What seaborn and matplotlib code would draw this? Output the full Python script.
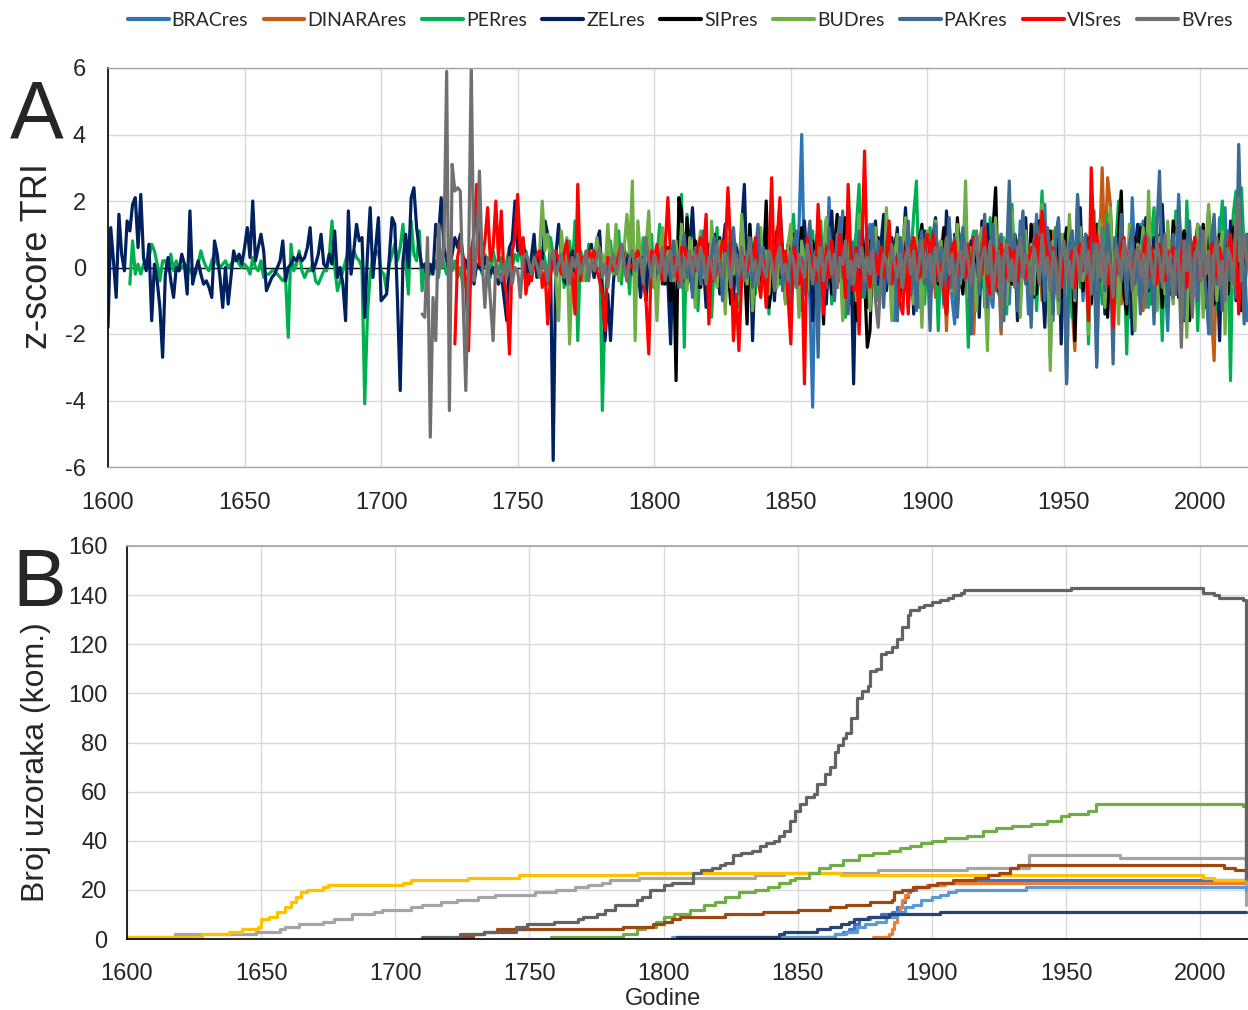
import numpy as np
import pandas as pd
import matplotlib
matplotlib.use("Agg")
import matplotlib.pyplot as plt
from matplotlib.lines import Line2D
import seaborn as sns

# ---------------- data ----------------
sites = ["BRACres", "DINARAres", "PERres", "ZELres", "SIPres", "BUDres", "PAKres", "VISres", "BVres"]
colors_a = ["#2E75B6", "#C55A11", "#00B050", "#002060", "#000000", "#70AD47", "#3D6A8E", "#FF0000", "#707070"]
colors_b = ["#4472C4", "#ED7D31", "#A5A5A5", "#FFC000", "#5B9BD5", "#70AD47", "#264478", "#9E480E", "#636363"]

start_year = {"BRACres": 1851, "DINARAres": 1878, "PERres": 1608, "ZELres": 1600, "SIPres": 1803,
              "BUDres": 1758, "PAKres": 1805, "VISres": 1727, "BVres": 1715}

z_ZEL = [
    -1.8, 1.2, 0.2, -0.9, 1.6, 0.4, -0.1, 1.4, 1.1, 1.9,
    2.1, 0.6, 2.2, 0.3, -0.1, 0.7, -1.6, 0.1, -0.4, -1.2,
    -2.7, -0.2, 0.3, -0.4, -0.9, 0.0, -0.1, 0.4, 0.1, -0.8,
    1.7, -0.5, -0.1, 0.2, -0.2, -0.5, -0.4, -0.6, -0.9, 0.8,
    0.4, -0.3, -1.2, 0.0, -1.1, -0.3, 0.5, 0.2, 0.4, 0.1,
    0.6, 1.2, 0.3, 2.0, 0.2, 0.6, 1.0, 0.5, -0.7, -0.5,
    -0.3, -0.2, 0.0, 0.2, 0.8, -0.4, 0.0, 0.1, 0.3, 0.2,
    0.4, 0.2, 0.3, 0.6, 1.2, -0.1, 0.1, 0.4, 1.0, 0.1,
    0.0, 0.4, 0.1, 1.1, -0.3, 0.0, -0.5, -1.6, 1.7, -0.2,
    0.5, 1.3, 0.8, 0.9, -1.5, 0.4, 1.8, -0.3, 0.6, 1.5,
    -1.0, -0.9, -0.8, 0.3, 1.5, 1.3, -1.0, -3.7, 0.2, 1.0,
    0.0, 2.1, 2.4, 1.2, 0.5, 0.0, 0.1, -0.4, 0.1, -0.2,
    1.3, 0.9, 2.1, 0.6, 0.2, -0.1, 0.4, 0.9, 0.6, 1.0,
    0.3, 0.2, -0.1, 0.4, -0.5, 0.1, 0.0, -0.1, 0.3, 0.0,
    -0.2, 0.0, -0.3, -0.5, -0.2, -0.9, -1.6, 0.6, 0.8, 2.0,
    0.5, 0.6, 0.8, 0.2, -0.5, 0.3, 1.0, -0.3, 0.5, 0.2,
    1.4, 1.0, 0.3, -5.8, 0.4, 1.3, 0.3, -0.4, -0.5, 0.1,
    0.5, -0.2, 0.4, -0.1, 0.3, 0.2, 0.4, 0.7, -0.3, 0.8,
    1.1, -0.6, -2.2, -0.8, -2.2, -0.5, 0.5, -0.3, 0.6, 0.0,
    0.2, 0.5, -0.2, 0.4, 0.1, -0.9, 0.3, -1.0, 0.5, 0.0,
    0.3, -0.8, 0.4, -0.5, 0.8, -0.4, -2.3, 0.5, -0.1, 0.6,
    -0.3, 0.4, 1.3, 0.6, 1.8, 0.2, -0.6, 0.9, 0.1, -1.2,
    0.7, -0.4, 1.0, 0.3, -0.8, 0.5, 1.3, -0.2, 0.4, -1.0,
    0.6, 0.0, 1.2, 2.5, -0.4, 0.8, -2.2, 0.3, 1.0, -0.6,
    0.4, 1.5, -0.3, 0.7, -1.0, 0.2, 1.9, 0.5, -0.7, 0.3,
    -0.5, 1.0, 0.2, -0.8, 0.6, 1.4, -0.2, 0.8, -1.6, 0.4,
    1.2, -0.3, 0.7, -1.1, 0.5, 1.7, 0.0, -0.6, 0.9, 0.3,
    -0.8, 1.1, 0.4, -3.5, 0.6, -0.3, 1.3, 0.2, -1.2, 0.8,
    0.1, 1.4, -0.5, 0.7, 1.6, -0.7, 0.3, 0.9, -0.4, 1.2,
    -0.9, 0.5, 1.8, -0.2, 0.6, -1.4, 0.8, 0.2, -0.6, 1.1,
    0.4, -1.0, 0.9, 1.5, -0.3, 0.6, -0.8, 1.7, 0.2, -0.5,
    1.0, -1.2, 0.5, 0.3, 1.4, -0.6, 0.8, -0.2, 0.4, -1.5,
    0.9, 0.1, 1.3, -0.7, 0.5, 1.6, -0.4, 0.2, -1.1, 0.7,
    1.2, -0.3, 0.6, -1.6, 0.9, 0.1, 1.5, -0.5, 0.3, -0.9,
    0.8, 1.3, -0.2, -1.8, 0.5, 0.9, -0.6, 0.2, 1.4, -2.3,
    0.6, -0.4, 1.0, 0.3, -1.2, 0.7, 1.8, -0.5, 0.2, 0.9,
    -0.8, 0.5, 1.1, -0.3, 0.6, -1.4, 0.4, 1.6, -0.2, 0.8,
    -0.6, 1.2, 0.3, -1.0, 0.7, -2.0, 0.5, 1.3, -0.4, 0.2,
    1.5, -0.7, 0.4, 0.9, -1.3, 0.6, 1.9, -0.1, 0.3, -0.8,
    0.7, 1.2, -0.5, 0.4, -1.6, 1.0, 0.2, -0.9, 0.6, 1.3,
    -0.4, 0.8, -1.2, 0.5, 1.1, -0.6, 0.3, -2.2, 0.9, 0.1,
    -0.7, 1.4, 0.2, -1.0, 0.6, 0.4, -0.3, 0.2]

z_PER = [
    -0.5, 0.8, -0.2, 0.1, -0.2, 0.1, 0.2, 0.3, 0.7, 0.5,
    0.1, -0.4, 0.2, 0.2, -0.1, 0.4, -0.1, 0.2, -0.1, 0.0,
    0.1, 0.0, -0.1, -0.2, -0.2, 0.1, 0.5, 0.2, 0.0, -0.1,
    0.2, 0.4, 0.1, 0.0, 0.1, 0.2, 0.0, 0.1, 0.2, 0.3,
    0.1, 0.0, 0.1, 0.0, -0.2, 0.3, 0.0, -0.1, 0.2, -0.3,
    -0.2, -0.2, -0.1, -0.1, -0.2, -0.3, -0.4, -0.3, -2.1, 0.7,
    -0.1, 0.1, 0.5, -0.1, -0.3, -0.1, -0.1, 0.1, -0.4, -0.5,
    -0.3, -0.1, -0.1, 0.3, 1.4, 0.0, -0.7, -0.4, -0.1, 0.2,
    0.5, 0.3, 0.5, 0.3, 0.2, 0.0, -4.1, -1.4, -0.2, 0.3,
    0.4, 0.5, -0.1, -0.2, -0.7, 0.1, 0.4, 0.7, 0.2, 0.6,
    1.3, 0.2, -0.8, 1.4, 0.4, 0.2, 1.1, -0.7, 0.1, -0.1,
    -0.2, 0.0, 0.2, -0.3, 0.4, 0.1, -0.2, 0.3, -0.1, 0.2,
    -0.3, 0.0, -0.6, 0.2, 0.1, -0.4, 0.3, 0.0, 0.1, -0.2,
    0.4, 0.2, -0.3, 0.5, 0.1, -0.2, 0.3, -0.5, 0.2, 0.6,
    0.0, 0.4, 0.2, 0.8, -0.3, 0.5, 0.1, -0.4, 0.7, 0.3,
    -0.2, 0.6, 0.2, -0.5, 0.9, 0.4, -0.3, 0.1, 0.6, -0.6,
    0.3, 0.8, -0.1, 1.4, -2.2, 0.5, 0.2, -0.4, 0.7, 0.1,
    -0.3, 0.5, 0.9, -4.3, -1.2, 0.4, 0.8, -0.2, 0.3, 1.1,
    -0.5, 0.6, 0.2, -0.8, 1.2, 0.0, 0.5, -0.3, 0.9, -1.0,
    0.4, 1.0, -0.6, 0.3, 1.3, -0.4, 0.7, 0.2, -1.1, 0.6,
    -0.2, 1.5, 2.2, -2.4, 1.6, 0.3, -0.5, 0.8, -1.3, 0.4,
    1.0, -0.7, 0.5, -1.5, 0.2, 1.2, -0.4, 0.6, -0.9, 0.3,
    1.1, -0.3, 0.7, -1.2, 0.4, 0.9, -0.6, 1.3, 0.1, -0.8,
    0.6, 1.0, -0.4, 0.3, -1.4, 0.8, 0.2, 1.2, -0.5, 0.4,
    -1.0, 0.7, 0.3, 1.6, -0.2, 0.5, -1.3, 0.9, 0.1, -0.6,
    1.1, -0.4, 0.6, 1.4, -0.8, 0.2, 0.7, -1.1, 0.4, 1.0,
    -0.3, 0.5, -1.5, 0.8, 0.2, -0.6, 1.2, 2.5, -0.9, 0.3,
    0.6, -0.5, 1.1, 0.1, -1.0, 0.7, 0.4, -0.4, 1.3, -0.2,
    0.5, -1.6, 0.9, 0.2, -0.7, 1.0, 0.3, 1.6, 2.6, -0.8,
    0.4, -1.1, 0.7, 1.2, -0.3, 0.5, -1.9, 0.8, 0.1, -0.6,
    1.3, 0.2, -0.9, 0.6, 1.0, -0.4, 0.3, -2.4, 0.7, 1.1,
    -0.5, 0.4, 0.9, -1.2, 0.2, 1.5, -0.3, 0.6, -0.8, 1.0,
    0.3, -1.4, 0.7, 1.9, -0.2, 0.5, -1.0, 0.8, 1.3, -0.6,
    0.2, 1.0, -1.3, 0.6, 2.3, -0.4, 0.9, -2.7, 0.3, 1.2,
    -0.7, 0.5, 1.0, -0.3, 0.7, -1.5, 0.4, 1.1, -0.6, 0.2,
    0.9, -2.3, 0.6, 1.3, -0.4, 0.5, -1.1, 0.8, 1.6, -0.3,
    -1.4, 0.7, 2.0, -0.5, 0.3, -2.6, 1.0, 0.2, -0.8, 0.6,
    1.3, -0.4, 0.5, -1.2, 0.9, 1.8, -0.6, 0.3, -2.2, 0.7,
    1.1, -0.3, 0.4, 1.7, -0.9, 0.6, -1.6, 2.0, 0.1, -0.5,
    0.8, -1.9, 1.2, 0.3, -0.7, 1.5, -0.2, 0.6, -1.3, 0.9,
    2.0, -0.4, 0.7, -3.4, 1.6, 2.3, -0.8, 2.4, 0.5, 1.0]

z_BV = [
    -1.4, -1.5, 0.9, -5.1, -0.9, -2.2, 1.3, 0.0, 0.6, 5.9,
    -4.3, 3.1, 2.3, 2.4, 2.3, -0.9, -3.7, 0.0, 6.1, -0.4,
    0.5, 2.9, 0.2, -1.2, 0.3, -1.0, -2.2, 0.2, -0.2, -0.4,
    0.1, -0.3, 0.3, -0.5, 0.0, -0.1, -0.9, 0.3, 0.4, 0.2,
    -0.2, 0.3, 0.1, -0.3, 0.2, 0.0, -0.4, 0.3, 0.5, -0.2,
    0.1, 0.4, -0.3, 0.2, -0.5, 0.3, 0.0, 0.4, -0.2, 0.1,
    0.5, -0.4, 0.2, -0.1, 0.3, 0.6, -0.3, 0.1, -0.6, 0.2,
    0.4, -0.2, 0.1, 0.7, 0.0, -0.4, 0.3, 0.5, -0.1, 0.2,
    0.3, -0.5, 0.9, 0.2, -0.3, 0.4, 0.1, -0.2, 0.6, -0.4,
    0.2, 0.5, -0.3, 0.1, 0.4, -0.6, 0.3, 0.0, 0.5, -0.2,
    0.4, -0.1, 0.6, 0.2, -0.5, 0.3, 0.1, -0.4, 0.7, 0.0,
    -0.3, 0.4, 0.2, -0.6, 0.5, 0.1, -0.2, 0.6, -0.4, 0.3,
    0.8, -0.1, 0.2, -0.5, 0.4, 0.0, -0.3, 0.5, 0.2, -0.7,
    0.3, 0.6, -0.2, 0.1, -0.4, 0.5, 0.2, -0.6, 0.4, 0.0,
    -0.3, 0.7, 0.1, -0.5, 0.3, -0.1, 0.6, -0.4, 0.2, 0.5,
    -0.2, 0.4, -0.6, 0.3, 0.1, 0.8, -0.3, 0.2, -0.5, 0.4,
    0.0, 0.6, -0.4, 0.3, -0.2, 0.5, -1.0, -1.8, -0.3, 0.4,
    0.2, -0.5, 0.7, 0.1, -0.3, 0.4, -0.6, 0.3, 0.6, -0.2,
    0.5, -0.4, 0.1, 0.8, -0.3, 0.2, 0.4, -0.5, 0.6, 0.0,
    -0.6, 0.3, 0.9, -0.2, 0.4, -0.8, 0.1, 0.5, -0.3, 0.7,
    0.2, -0.5, 0.4, 1.1, -0.4, 0.3, 0.6, -0.2, 0.8, -0.9,
    0.1, 0.5, -1.9, 0.3, 0.7, -0.4, 0.2, -0.6, 0.5, 0.9,
    -0.3, 0.4, 0.1, -0.8, 0.6, 0.2, -0.5, 1.0, -0.2, 0.3,
    -0.7, 0.5, 0.1, -1.0, 0.4, 0.8, -0.3, 0.2, -0.6, 0.6,
    0.3, -0.4, 0.9, -0.2, 0.5, -0.8, 0.2, 0.7, -0.3, 1.2,
    -0.5, 0.4, 0.1, -0.9, 0.6, 0.3, -0.4, 0.8, -0.1, 0.5,
    -0.7, 0.2, 0.6, -0.3, 0.4, -1.2, 0.9, 0.1, -0.5, 0.7,
    0.3, -0.6, 1.0, -0.2, 0.4, -0.9, 0.5, 0.2, -2.4, 0.8,
    -0.1, 0.6, -1.5, 0.3, 0.7, -0.4, 1.1, -0.2, 0.5, -2.0,
    0.4, 0.9, -0.6, 0.2, -1.0, 0.6, 0.3, -0.5, 1.3, 2.1,
    -0.4, 1.0, 0.2]

z_VIS = [
    -2.3, 0.3, 0.8, 0.3, -0.4, -2.5, 0.5, 1.0, 2.5, 0.1,
    0.2, 0.8, 1.8, 0.2, 0.6, 2.0, 0.2, 1.7, -0.4, -0.8,
    -2.6, 0.5, 0.9, 2.2, 0.4, 0.9, -0.8, -0.2, -0.4, 0.1,
    0.4, 0.5, -0.6, -0.1, -1.7, -0.2, 0.1, 0.5, 0.2, -0.2,
    0.4, 0.8, 0.0, -0.3, -1.4, 2.5, -0.4, 0.3, 0.2, 0.5,
    0.3, 0.5, -0.1, -0.4, -0.8, -1.9, 0.3, 0.1, -0.1, 0.0,
    0.4, 0.7, 0.2, -0.4, 0.1, 0.0, 0.3, 0.5, 0.1, -0.4,
    -1.0, -2.6, 0.5, 0.2, 0.7, 0.1, -0.4, 0.6, 2.1, 0.3,
    0.3, -0.2, -0.4, 0.6, 0.6, 0.1, 0.2, 0.3, -0.1, 0.6,
    0.9, 0.4, 1.6, -1.7, 0.2, -0.4, 0.1, 0.3, 0.8, 0.5,
    2.4, 0.5, -2.2, -0.8, -2.5, -0.4, 0.3, -0.1, 0.5, 0.2,
    0.9, -0.3, -0.9, 0.2, -1.2, 0.4, 2.7, -0.4, 0.8, 2.1,
    -0.2, 0.5, -0.9, -2.3, 0.6, 0.3, -0.5, 0.2, -3.5, 0.9,
    0.5, -0.2, -0.4, 1.9, 0.3, -1.4, 0.6, -0.3, 0.8, 0.2,
    -0.6, 1.0, 0.4, -0.9, 2.5, 0.3, -0.7, 0.6, -2.0, 0.5,
    3.5, 0.1, -0.6, 0.3, 0.4, -0.2, 0.6, -0.3, 0.2, 1.4,
    -0.5, 0.3, 0.2, -1.1, -1.4, 0.5, -1.4, 0.6, 0.9, 0.4,
    -0.3, 0.2, 0.6, 1.0, 0.3, 1.0, 0.5, -0.4, 0.1, -0.7,
    -1.4, 0.0, 0.6, 0.8, -0.2, 0.4, 0.3, -0.3, 0.7, -0.5,
    0.9, 0.4, 0.4, -0.2, 1.2, -0.4, -0.8, 0.6, -0.6, 0.3,
    0.7, 0.2, -0.3, 0.6, 0.3, 0.5, -0.4, 0.3, 0.1, -0.3,
    0.2, 0.6, 0.4, 1.0, 0.1, 1.7, 0.9, 0.4, -0.1, 0.6,
    0.2, -0.4, -0.6, 0.3, 0.1, -0.2, 0.5, -0.6, 0.4, 0.7,
    -0.1, 0.3, -1.6, 3.0, 0.8, 1.0, 0.3, 0.6, -0.3, -0.5,
    0.2, -1.8, 0.4, 0.2, 0.7, 0.9, 0.1, 0.5, -0.4, 0.3,
    0.6, 0.2, 0.4, 0.9, -0.3, 0.6, 0.1, -0.5, 0.7, 0.3,
    -0.4, 0.5, 0.2, 0.6, 0.3, -0.2, 0.4, 0.8, -0.6, 0.1,
    0.5, 0.9, 0.3, -0.4, 0.6, -0.1, 0.2, 0.7, 0.4, -0.3,
    0.6, 0.2, -0.5, 0.3, 1.0, -0.3, 0.8, -1.4, 0.4, 0.5,
    0.2]

z_BUD = [
    0.4, 2.0, 0.5, 1.0, 0.3, 0.5, -0.4, -1.6, 1.1, 0.2,
    0.9, -2.3, -0.2, -0.9, 0.5, 0.1, -0.4, 0.3, 0.0, 0.5,
    0.2, 0.9, 0.3, 0.4, -0.1, 1.3, 0.1, -0.2, 1.3, -0.4,
    0.3, 0.6, 1.6, 0.4, 2.6, -2.2, 1.4, 0.3, 0.0, 0.6,
    1.7, -0.6, 0.3, -1.6, 0.4, 1.2, 0.1, 0.5, -0.3, -0.4,
    0.8, -0.5, 1.3, 0.2, -0.7, 0.9, 0.4, -1.2, 0.6, 1.1,
    -0.3, 0.5, -0.9, 1.4, 0.2, -0.6, 0.8, 0.3, -1.4, 0.7,
    1.0, -0.2, 0.4, -1.0, 1.6, 0.3, -0.5, 0.9, -1.3, 0.2,
    0.6, 1.2, -0.4, 0.5, -0.8, 1.4, 0.1, -0.6, 0.9, 0.3,
    -1.1, 0.7, 1.3, -0.3, 0.4, -1.5, 0.8, 0.2, -0.7, 1.2,
    0.1, -0.4, 0.9, -1.2, 0.6, 1.5, -0.3, 0.4, -0.9, 1.0,
    0.3, -1.6, 0.7, 1.1, -0.5, 0.2, -1.0, 1.6, 0.4, -0.3,
    0.8, -1.3, 0.5, 1.2, -0.2, 0.6, -0.9, 1.8, 0.1, -1.6,
    0.4, 1.0, -0.6, 0.7, 1.5, -0.3, 0.2, -1.1, 0.9, 0.3,
    -1.8, 0.6, 1.1, -0.4, 0.5, 1.4, -0.2, 0.8, -1.2, 0.3,
    1.0, -0.7, 0.4, 1.3, -0.5, 0.2, 2.6, -0.9, 0.6, 0.1,
    -1.3, 0.8, 1.2, -0.4, -2.5, 0.7, 0.3, 1.5, -0.6, 0.2,
    0.9, -1.1, 0.5, 1.7, -0.3, 0.6, -1.5, 0.4, 1.1, -0.2,
    0.7, -0.8, 1.3, 0.2, 1.9, -0.5, 0.4, -3.1, 0.8, 0.3,
    -1.4, 1.0, 0.5, -0.6, 1.6, 0.2, -1.0, 0.7, 1.2, -0.4,
    0.5, -2.0, 0.9, 0.3, -0.7, 1.4, 0.1, -1.2, 0.6, 1.8,
    -0.3, 0.4, -1.7, 1.1, 0.6, -0.5, 1.3, 0.2, -1.9, 0.7,
    0.3, 1.2, -0.6, 2.3, -0.2, 0.5, -1.3, 0.9, 0.4, -0.8,
    1.4, 0.1, -1.1, 0.6, 1.7, -0.4, 0.3, -2.1, 1.0, 0.5,
    -0.7, 1.3, 0.2, -1.5, 0.8, 1.9, -0.3, 0.6, -1.0, 0.4,
    1.1, -2.0, 0.5, 0.9, -0.6, 1.5, 0.2, 0.7, -0.8, 0.3]

z_SIP = [
    0.2, -0.5, 0.6, -1.0, 0.4, -3.4, 2.1, 1.7, -0.4, 1.5,
    -0.2, -0.7, 0.8, 0.3, -0.6, 0.5, 1.0, -1.2, 0.2, 0.7,
    -0.3, 0.9, -0.8, 0.4, 0.1, -1.1, 0.6, 0.3, -0.5, 1.0,
    0.2, -1.7, 1.3, -0.4, 0.5, 0.8, -0.6, 0.1, 2.0, -1.2,
    -0.6, 0.4, 1.1, -0.3, 0.5, -0.9, 0.7, 0.3, 0.6, -0.5,
    0.2, 1.2, -0.7, 0.4, -0.2, 0.8, 0.3, -1.0, 0.5, -1.7,
    1.4, 0.2, -0.8, 0.6, 1.6, -0.4, 0.3, 1.5, -1.2, 0.5,
    0.1, -1.6, 0.8, 1.2, -0.3, -2.4, -1.9, 0.6, 0.2, 0.9,
    -0.5, 0.4, 1.5, 0.1, -0.8, 0.7, 1.0, -0.6, 0.3, 1.1,
    -1.2, 0.5, 0.2, -0.9, 0.8, 1.3, -0.3, 0.4, -1.0, 0.6,
    1.0, -0.5, 0.3, 1.2, -1.4, 0.2, 0.7, -0.6, 1.5, 0.1,
    -0.8, 0.6, 0.3, -1.3, 0.9, 0.2, -0.4, 1.4, 0.5, -0.9,
    0.3, 1.1, 2.4, -0.7, 0.4, -1.2, 0.8, 0.1, -0.5, 1.0,
    0.6, -1.0, 0.2, 0.9, -0.4, 1.3, 0.3, -0.8, 1.4, 0.5,
    -0.6, 0.2, 1.1, -1.3, 0.7, 0.4, -0.9, 0.6, 1.2, -0.3,
    0.5, -2.2, 0.8, 0.3, -0.7, 1.0, 0.2, -1.1, 0.6, 1.3,
    -0.4, 0.7, 0.1, -1.5, 0.9, 0.4, -0.6, 1.1, 2.3, -0.8,
    -1.4, 0.6, 0.2, 0.9, -0.5, 1.2, 0.3, -1.0, 0.7, 0.4,
    -0.7, 1.0, 0.5, -1.2, 0.3, 0.8, -0.4, 1.4, 0.1, -0.9,
    0.6, 1.1, -0.3, -1.6, 0.4, 0.9, -0.5, 0.2, 1.3, -0.6,
    1.7, 0.3, -1.1, 0.5, 1.0, -0.4, 0.7, -0.8, 0.2, 1.2,
    -0.5, 0.4, -1.3, 0.6, 0.2]

z_PAK = [
    0.3, -0.4, 0.8, 0.1, -0.6, 0.5, 1.0, -0.3, 0.4, -0.9,
    0.6, 0.2, -0.5, 1.1, 0.3, -0.7, 0.4, 0.9, -0.2, 0.5,
    -1.0, 0.3, 0.7, -0.4, 1.2, 0.1, -0.8, 0.5, 0.2, -0.3,
    0.9, -0.6, 0.4, 1.3, -0.2, 0.6, -1.1, 0.3, 0.8, -0.5,
    0.2, 1.0, -0.7, 0.4, 0.1, -1.3, 0.7, 1.1, -0.4, 0.3,
    -0.8, 0.6, 1.4, -0.2, 0.5, -2.7, 0.9, 0.2, -0.6, 1.2,
    0.4, -1.0, 0.7, 1.5, -0.3, 0.2, -1.4, 0.8, 0.5, -0.7,
    1.1, 0.3, -0.9, 0.6, -0.3, 1.3, -0.5, 0.8, 0.2, -1.2,
    0.7, 1.2, -0.4, 0.3, -1.6, 0.9, 0.5, -0.2, 1.4, -0.8,
    0.2, -1.3, 0.6, 1.1, -0.5, 0.4, -1.9, 0.8, 1.3, -0.3,
    0.6, -1.1, 0.2, 1.5, -0.6, 0.9, -1.5, 0.3, 1.2, -0.4,
    0.7, -2.0, 0.5, 1.0, -0.8, 0.4, 1.6, -1.2, 0.2, 1.3,
    -0.7, 0.5, 0.9, -1.6, 0.3, 2.6, -0.4, 1.0, -1.3, 0.6,
    1.7, -0.5, 0.2, -1.8, 0.8, 1.4, -0.3, 0.6, -1.0, 1.2,
    0.4, -1.4, 0.9, 1.5, -0.6, 0.3, -3.5, 0.7, 1.1, -0.9,
    2.1, -0.4, 0.6, 1.0, -1.3, 0.5, 1.7, -3.0, 0.2, 0.8,
    -0.7, 1.3, 0.4, -2.9, 0.9, -0.2, 1.6, 0.3, -1.1, 0.7,
    1.2, -0.5, 0.4, -1.4, 0.8, 1.0, -0.6, 0.3, -1.7, 1.1,
    2.9, -0.3, 0.6, -1.2, 0.2, 1.0, -0.8, 2.0, 0.4, -1.5,
    0.7, 1.4, -0.4, 0.5, -1.0, 1.2, 0.3, -0.7, -1.8, 0.9,
    1.6, -0.5, 0.2, -1.3, 0.8, 1.1, -0.4, 0.5, -0.9, 3.7,
    0.6, -1.7, 1.0]

z_BRAC = [
    0.3, -0.6, 1.2, 4.0, -0.3, 0.5, -1.0, -4.2, 0.6, -0.4,
    0.9, 0.2, -0.7, 2.1, -0.5, 0.4, 0.8, -0.2, 1.7, -0.6,
    0.3, -1.1, 0.6, 1.0, -0.4, 0.2, -0.8, 0.7, 1.3, -0.3,
    0.5, -1.0, 0.2, 0.8, -0.6, 1.1, -0.2, -1.6, 0.4, 0.9,
    -0.5, 0.3, 1.2, -0.8, 0.6, 0.1, -1.2, 0.7, 0.4, -0.3,
    1.0, -0.6, 0.5, -1.3, 0.8, 0.2, -0.4, 1.1, -0.9, -1.7,
    0.6, 0.3, -0.5, 1.2, -0.2, 0.7, -1.0, 0.4, 0.9, -0.6,
    0.2, 1.3, -0.8, -1.2, 0.5, 0.1, 1.0, -0.4, 0.6, -1.1,
    0.8, 0.3, -0.7, 1.4, -0.3, 0.5, -1.4, 0.9, 0.2, 1.6,
    -0.5, 0.7, 1.9, -0.9, 0.4, -1.6, 1.2, 0.3, -0.7, 0.8,
    -3.4, 0.6, 1.1, -0.5, 2.2, 0.3, -1.0, 0.7, -0.3, 1.3,
    0.2, -2.9, 0.8, -0.4, 1.0, -1.3, 0.5, 0.9, -0.7, 0.3,
    1.2, -0.6, 0.4, -1.5, 2.1, 0.2, -0.8, 0.6, 1.4, -0.3,
    0.5, -1.1, 0.9, 0.3, -0.6, 1.8, -0.2, -1.9, 0.7, 0.4,
    -0.8, 2.2, 0.1, -1.2, 0.6, 1.0, -0.5, 0.3, -1.4, 0.8,
    1.1, -0.3, -2.0, 0.5, 0.9, -0.7, 1.5, 0.2, 1.8, -1.0,
    0.4, -0.6, 1.2, 0.3, -1.1, 0.7, -1.6]

z_DINARA = [
    0.2, -0.4, 0.6, 1.3, -0.3, 0.5, -0.8, 0.9, 0.1, -0.5,
    0.7, 1.1, -0.6, 0.3, 0.8, -0.2, 0.4, -1.0, 0.6, 0.2,
    -0.7, 0.5, 1.0, -0.3, 0.4, -0.9, 0.7, 0.2, 0.5, -1.9,
    0.6, -0.4, 0.3, 1.2, -0.6, 0.2, 0.8, -0.5, 0.4, -2.0,
    0.5, 0.9, -0.3, 0.6, -0.8, 0.3, 1.1, -0.4, 0.2, -2.0,
    0.7, 0.3, -0.5, 1.0, -0.2, 0.6, -0.9, 0.4, 0.8, -0.6,
    0.2, 1.3, -0.4, 0.5, -1.0, 0.7, 0.3, -0.6, 1.1, 0.1,
    -0.8, 0.6, 0.4, -0.3, 0.9, -1.2, -2.5, 0.5, 0.8, -0.4,
    0.3, -0.9, 0.6, 1.2, -0.5, 0.4, 3.0, 0.2, 2.7, 1.9,
    -0.6, 0.3, 0.8, -1.1, 0.5, 0.2, -0.7, 1.0, 0.4, -0.3,
    0.6, -1.3, 0.2, 0.9, -0.4, 0.5, -0.9, 0.7, 1.2, -0.5,
    0.3, 0.8, -1.0, 0.4, 0.6, -0.6, 1.1, 0.2, -1.2, 0.5,
    0.9, -0.4, 0.3, -0.8, 1.0, 0.2, -1.4, -2.8, 0.6, 0.4,
    -0.5, 0.8, 0.2, -0.9, 0.7, 1.3, -0.3, 0.5, -1.0, 0.4]

zscores = {"BRACres": z_BRAC, "DINARAres": z_DINARA, "PERres": z_PER, "ZELres": z_ZEL,
           "SIPres": z_SIP, "BUDres": z_BUD, "PAKres": z_PAK, "VISres": z_VIS, "BVres": z_BV}

# sample depth (number of samples), change points: year -> count from that year on
n_BRAC_years = [1851, 1864, 1867, 1869, 1871, 1873, 1877, 1881, 1885, 1887, 1889, 1890, 1891, 1892, 1894, 1898, 1903, 1915, 2017]
n_BRAC = [1, 2, 3, 4, 6, 8, 9, 10, 11, 13, 15, 17, 19, 20, 21, 22, 23, 24, 22]
n_DINARA_years = [1878, 1884, 1885, 1886, 1887, 1888, 1889, 1890, 1891, 1893, 1898, 1905, 2017]
n_DINARA = [1, 2, 4, 7, 10, 13, 16, 18, 20, 21, 22, 23, 23]
n_PER_years = [1600, 1618, 1648, 1657, 1659, 1664, 1673, 1677, 1684, 1692, 1695, 1706, 1710, 1717, 1723, 1731,
               1737, 1752, 1760, 1767, 1772, 1777, 1780, 1791, 1834, 1845, 1880, 1913, 1936, 1970, 2017]
n_PER = [1, 2, 3, 4, 5, 6, 7, 8, 10, 11, 12, 13, 14, 15, 16, 17,
         18, 19, 20, 21, 22, 23, 24, 25, 26, 27, 28, 29, 34, 33, 14]
n_ZEL_years = [1600, 1628, 1638, 1643, 1649, 1650, 1653, 1656, 1659, 1661, 1663, 1665, 1667, 1673, 1675,
               1703, 1706, 1727, 1746, 1790, 1866, 2001, 2005, 2017]
n_ZEL = [1, 2, 3, 4, 5, 8, 9, 11, 13, 15, 17, 19, 20, 21, 22,
         23, 24, 25, 26, 27, 26, 25, 24, 24]
n_SIP_years = [1803, 1864, 1868, 1872, 1875, 1879, 1883, 1887, 1890, 1893, 1896, 1900, 1903, 1906, 1909, 1935, 2017]
n_SIP = [1, 2, 3, 5, 6, 7, 9, 11, 13, 14, 16, 17, 18, 19, 20, 21, 20]
n_BUD_years = [1758, 1785, 1790, 1793, 1797, 1800, 1804, 1810, 1815, 1819, 1823, 1828, 1834, 1839, 1843, 1847,
               1849, 1854, 1858, 1862, 1867, 1873, 1878, 1884, 1888, 1892, 1896, 1900, 1905, 1913, 1919,
               1924, 1930, 1937, 1943, 1948, 1951, 1958, 1961, 2016, 2017]
n_BUD = [1, 2, 4, 5, 7, 9, 10, 12, 14, 15, 17, 19, 20, 21, 23, 24,
         25, 27, 29, 30, 32, 34, 35, 36, 37, 38, 39, 40, 41, 42, 44,
         45, 46, 47, 48, 50, 51, 52, 55, 54, 24]
n_PAK_years = [1805, 1843, 1845, 1857, 1862, 1866, 1869, 1871, 1876, 1884, 1903, 2017]
n_PAK = [1, 2, 3, 4, 5, 6, 7, 8, 9, 10, 11, 11]
n_VIS_years = [1725, 1729, 1733, 1738, 1785, 1796, 1800, 1803, 1806, 1823, 1837, 1850, 1862, 1868, 1877,
               1885, 1886, 1889, 1893, 1899, 1902, 1908, 1916, 1921, 1925, 1929, 1932, 2009, 2013, 2017]
n_VIS = [1, 2, 3, 4, 5, 6, 7, 8, 9, 10, 11, 12, 13, 14, 15,
         16, 19, 20, 21, 22, 23, 24, 25, 26, 27, 29, 30, 29, 28, 27]
n_BV_years = [1710, 1724, 1733, 1745, 1749, 1759, 1768, 1770, 1775, 1778, 1782, 1790, 1792, 1795, 1800, 1803,
              1811, 1814, 1818, 1821, 1823, 1826, 1829, 1833, 1836, 1838, 1841, 1843, 1845, 1847, 1849,
              1851, 1853, 1856, 1857, 1860, 1862, 1864, 1865, 1867, 1868, 1870, 1872, 1874, 1876, 1877,
              1879, 1881, 1883, 1885, 1887, 1889, 1891, 1892, 1895, 1897, 1900, 1903, 1906, 1908, 1911,
              1912, 1952, 2001, 2005, 2007, 2016, 2017]
n_BV = [1, 2, 3, 5, 6, 7, 8, 9, 10, 12, 14, 16, 17, 20, 22, 23,
        27, 28, 29, 30, 31, 34, 35, 36, 38, 39, 40, 42, 44, 48, 52,
        55, 58, 59, 63, 67, 70, 76, 79, 82, 84, 90, 98, 101, 103, 109,
        110, 116, 117, 119, 122, 127, 132, 134, 135, 136, 137, 138, 139, 140, 141,
        142, 143, 141, 140, 139, 138, 25]

depth = {"BRACres": (n_BRAC_years, n_BRAC), "DINARAres": (n_DINARA_years, n_DINARA),
         "PERres": (n_PER_years, n_PER), "ZELres": (n_ZEL_years, n_ZEL),
         "SIPres": (n_SIP_years, n_SIP), "BUDres": (n_BUD_years, n_BUD),
         "PAKres": (n_PAK_years, n_PAK), "VISres": (n_VIS_years, n_VIS), "BVres": (n_BV_years, n_BV)}

# ---------------- tidy frames ----------------
rows = []
for s in sites:
    vals = zscores[s]
    y0 = start_year[s]
    for i, v in enumerate(vals):
        rows.append((s, y0 + i, v))
dfA = pd.DataFrame(rows, columns=["site", "year", "z"])

rows = []
for s in sites:
    yrs, cnt = depth[s]
    for y, c in zip(yrs, cnt):
        rows.append((s, y, c))
dfB = pd.DataFrame(rows, columns=["site", "year", "n"])

# ---------------- figure ----------------
sns.set_theme(style="white")
plt.rcParams["font.family"] = ["Liberation Sans", "DejaVu Sans"]
plt.rcParams["axes.unicode_minus"] = False

W, H = 1248, 1010
fig = plt.figure(figsize=(W / 100, H / 100), dpi=100)
fig.patch.set_facecolor("white")

axA = fig.add_axes([108 / W, 1 - 467 / H, 1 - 108 / W, (467 - 68) / H])
axB = fig.add_axes([127 / W, 1 - 939 / H, 1 - 127 / W, (939 - 546) / H])

grid_c = "#D9D9D9"
tick_fs = 17

# Panel A
axA.axhline(0, color="black", lw=1.0, zorder=1.5)
sns.lineplot(data=dfA, x="year", y="z", hue="site", hue_order=sites, palette=colors_a,
             estimator=None, lw=2.3, legend=False, ax=axA)
axA.set_xlim(1600, 2017.4)
axA.set_ylim(-6, 6)
axA.set_xticks(range(1600, 2001, 50))
axA.set_yticks(range(-6, 7, 2))
axA.grid(True, color=grid_c, lw=1.0)
axA.set_axisbelow(True)
axA.set_xlabel("")
axA.set_ylabel("")
for sp in ["top", "bottom"]:
    axA.spines[sp].set_color("#A6A6A6")
    axA.spines[sp].set_linewidth(1.0)
axA.spines["right"].set_visible(False)
axA.spines["left"].set_color("black")
axA.spines["left"].set_linewidth(1.2)
axA.tick_params(axis="y", direction="out", length=6, width=1.0, color="black",
                labelsize=tick_fs, pad=10)
axA.tick_params(axis="x", length=0, labelsize=tick_fs, pad=18)

# Panel B
sns.lineplot(data=dfB, x="year", y="n", hue="site", hue_order=sites, palette=colors_b,
             estimator=None, lw=2.3, legend=False, drawstyle="steps-post", ax=axB)
axB.set_xlim(1600, 2017.8)
axB.set_ylim(0, 160)
axB.set_xticks(range(1600, 2001, 50))
axB.set_yticks(range(0, 161, 20))
axB.grid(True, color=grid_c, lw=1.0)
axB.set_axisbelow(True)
axB.set_xlabel("")
axB.set_ylabel("")
axB.spines["top"].set_color("#A6A6A6")
axB.spines["right"].set_visible(False)
for sp in ["left", "bottom"]:
    axB.spines[sp].set_color("black")
    axB.spines[sp].set_linewidth(1.2)
axB.tick_params(axis="both", direction="out", length=6, width=1.0, color="black",
                labelsize=tick_fs, pad=8)
axB.tick_params(axis="x", pad=11)

# Labels
fig.text(10 / W, 1 - 138 / H, "A", fontsize=58, va="baseline", ha="left")
fig.text(12 / W, 1 - 606 / H, "B", fontsize=58, va="baseline", ha="left")
fig.text(38 / W, 1 - 256 / H, "z-score TRI", rotation=90, ha="center", va="center", fontsize=26)
fig.text(36 / W, 1 - 762 / H, "Broj uzoraka (kom.)", rotation=90, ha="center", va="center", fontsize=23)
fig.text(663 / W, 1 - 999 / H, "Godine", ha="center", va="center", fontsize=17)

# Legend
handles = [Line2D([], [], color=c, lw=3) for c in colors_a]
fig.legend(handles, sites, loc="center", bbox_to_anchor=(680 / W, 1 - 20 / H), ncol=9,
           frameon=False, prop={"family": ["Lato", "DejaVu Sans"], "size": 14},
           handlelength=2.1, handletextpad=0.15, columnspacing=0.8)

fig.savefig("out.png", dpi=100, facecolor="white")
